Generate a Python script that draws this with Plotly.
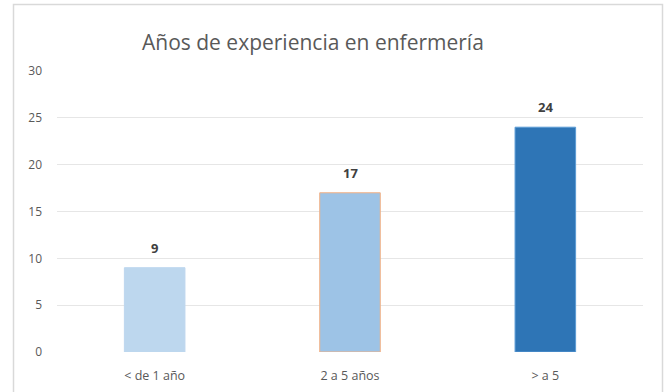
import plotly.graph_objects as go

# Chart data
categories = ["< de 1 año", "2 a 5 años", "> a 5"]
values = [9, 17, 24]
bar_colors = ["#BDD7EE", "#9DC3E6", "#2E75B6"]
bar_edges = ["#BDD7EE", "#F4B183", "#5B9BD5"]
y_ticks = [0, 5, 10, 15, 20, 25, 30]

W, H = 670, 392
ML, MR, MT, MB = 57, 27, 71, 40
pw, ph = W - ML - MR, H - MT - MB
FONT = "Open Sans, DejaVu Sans, sans-serif"


def px_x(p):
    return (p - ML) / pw


def px_y(p):
    return (H - MB - p) / ph


fig = go.Figure(
    go.Bar(
        x=categories,
        y=values,
        marker=dict(color=bar_colors, line=dict(color=bar_edges, width=1)),
        hoverinfo="skip",
    )
)

# value labels above each bar
value_labels = [
    dict(
        x=c, y=v, xref="x", yref="y",
        text=f"<b>{v}</b>", showarrow=False,
        yanchor="bottom", yshift=9,
        font=dict(family=FONT, size=13, color="#404040"),
    )
    for c, v in zip(categories, values)
]

fig.update_layout(
    width=W,
    height=H,
    margin=dict(l=ML, r=MR, t=MT, b=MB, autoexpand=False),
    paper_bgcolor="white",
    plot_bgcolor="white",
    bargap=0.69,
    showlegend=False,
    font=dict(family=FONT, color="#595959", size=12),
    annotations=[
        dict(
            text="Años de experiencia en enfermería",
            xref="paper", yref="paper",
            x=px_x(313), y=px_y(42),
            xanchor="center", yanchor="middle",
            showarrow=False,
            font=dict(family=FONT, size=21, color="#595959"),
        )
    ] + value_labels,
    shapes=[
        dict(
            type="rect", xref="paper", yref="paper",
            x0=px_x(13.5), x1=px_x(662.5), y0=px_y(400), y1=px_y(4.5),
            line=dict(color="#D9D9D9", width=1.5), layer="above",
        )
    ],
)

fig.update_xaxes(
    showgrid=False, zeroline=False, showline=False, ticks="",
    tickfont=dict(size=12.5, color="#595959"), ticklabelstandoff=14,
    automargin=False,
)
fig.update_yaxes(
    range=[0, 30], tickvals=y_ticks, showgrid=True, gridcolor="#E6E6E6",
    gridwidth=1, zeroline=False, showline=False, ticks="",
    tickfont=dict(size=12, color="#595959"), ticklabelstandoff=14,
    automargin=False,
)

fig.write_html("out.html")
